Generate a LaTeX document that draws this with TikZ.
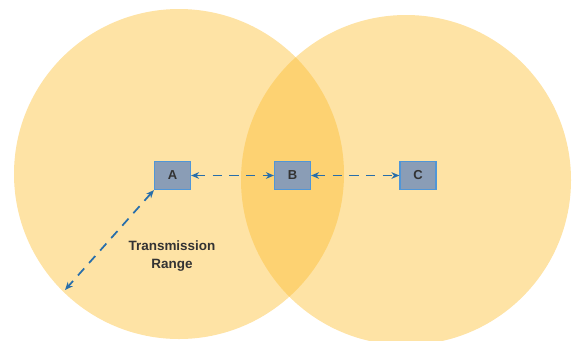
\documentclass[tikz,border=0pt]{standalone}
\usepackage{fontspec}
\setmainfont{Liberation Sans}
\usetikzlibrary{arrows.meta}
\definecolor{rangefill}{RGB}{252,189,47}
\definecolor{nodefill}{RGB}{138,157,182}
\definecolor{nodeedge}{RGB}{80,150,215}
\definecolor{linkblue}{RGB}{40,110,170}
\begin{document}
\begin{tikzpicture}[x=0.75pt,y=-0.75pt,
  coverage/.style={fill=rangefill,fill opacity=0.43},
  station/.style={draw=nodeedge,fill=nodefill,line width=0.9pt,
    minimum width=27pt,minimum height=21pt,inner sep=0pt,
    font=\bfseries\fontsize{9.75}{11}\selectfont,text=black!80},
  link/.style={draw=linkblue,line width=1.3pt,dash pattern=on 7pt off 5.5pt,
    {Stealth[length=6pt,width=5pt]}-{Stealth[length=6pt,width=5pt]}},
  caption/.style={font=\bfseries\fontsize{10.1}{13.5}\selectfont,text=black!80,align=center}]
\useasboundingbox (0,0) rectangle (574,340);
\clip (0,0) rectangle (574,340);
% coverage areas of the two outer stations
\fill[coverage] (179,174) circle[radius=123.75pt];
\fill[coverage] (406,180) circle[radius=123.75pt];
% stations
\node[station] (A) at (172.5,175.5) {A};
\node[station] (B) at (292.5,175.5) {B};
\node[station] (C) at (418,175.5) {C};
\coordinate (rim) at (65,290);
% links
\draw[link] (A) -- (B);
\draw[link] (B) -- (C);
\draw[link] (A.south west) -- (rim);
\node[caption] (rangelabel) at (172,256) {Transmission\\Range};
\end{tikzpicture}
\end{document}
